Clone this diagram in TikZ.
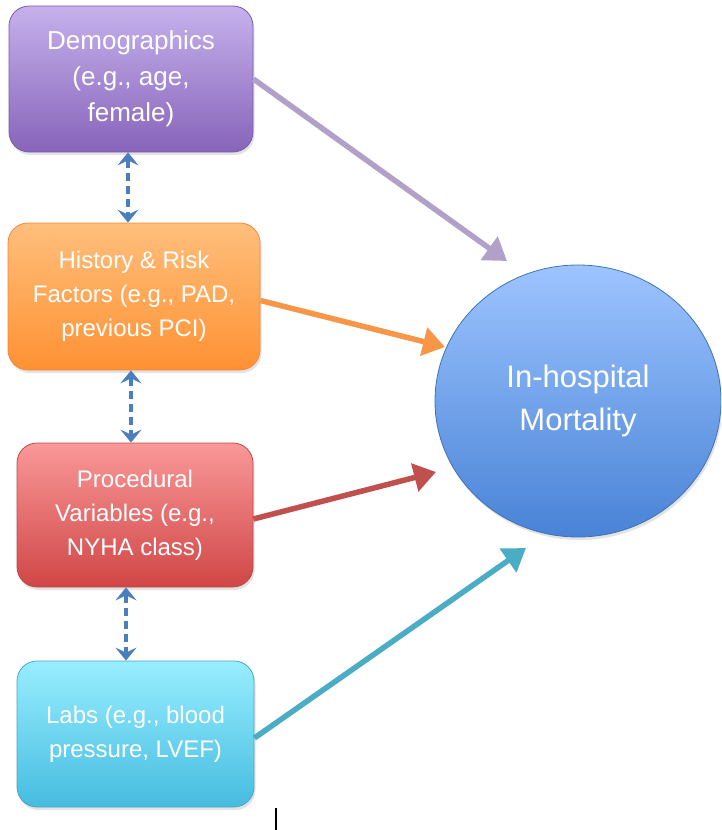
\documentclass[tikz,border=0pt]{standalone}
\usepackage{fontspec}
\setmainfont{Liberation Sans}
\usetikzlibrary{arrows.meta,shapes.geometric,shadows}
\definecolor{demoT}{HTML}{C6B1EC}
\definecolor{demoB}{HTML}{8764BA}
\definecolor{demoD}{HTML}{7A5CA8}
\definecolor{histT}{HTML}{FFBF7C}
\definecolor{histB}{HTML}{FF9133}
\definecolor{histD}{HTML}{F08A3A}
\definecolor{procT}{HTML}{FA9898}
\definecolor{procB}{HTML}{D04646}
\definecolor{procD}{HTML}{BE4B48}
\definecolor{labT}{HTML}{98EEFF}
\definecolor{labB}{HTML}{46BCE0}
\definecolor{labD}{HTML}{45A8C8}
\definecolor{mortT}{HTML}{9DC4FF}
\definecolor{mortB}{HTML}{4983D6}
\definecolor{mortD}{HTML}{3F72B8}
\definecolor{aPur}{HTML}{B1A1C8}
\definecolor{aOra}{HTML}{F79646}
\definecolor{aRed}{HTML}{C0504D}
\definecolor{aTea}{HTML}{4BACC6}
\definecolor{aBlu}{HTML}{4A7EBE}
\tikzset{
  box/.style={rectangle, rounded corners=20pt, align=center, text=white, line width=0.8pt,
    drop shadow={shadow xshift=1.5pt, shadow yshift=-3pt, opacity=0.22}},
  bigarrow/.style={line width=5.5pt, -{Triangle[length=22pt,width=28pt]}},
  dblarrow/.style={aBlu, line width=4pt, dash pattern=on 8pt off 5pt,
    {Stealth[length=13pt,width=21pt,inset=5pt]}-{Stealth[length=13pt,width=21pt,inset=5pt]}},
}
\begin{document}
\begin{tikzpicture}[x=1pt,y=-1pt]
\useasboundingbox (0,0) rectangle (721,830);
\clip (0,0) rectangle (721,830);
\node[box, draw=demoD, top color=demoT, bottom color=demoB, minimum width=244pt, minimum height=146pt,
  font=\fontsize{26}{36}\selectfont] (demo) at (131,79) {Demographics\\(e.g., age,\\female)};
\node[box, draw=histD, top color=histT, bottom color=histB, minimum width=252pt, minimum height=147pt,
  font=\fontsize{24}{34}\selectfont] (hist) at (134,296.5) {History \& Risk\\Factors (e.g., PAD,\\previous PCI)};
\node[box, draw=procD, top color=procT, bottom color=procB, minimum width=236pt, minimum height=144pt,
  font=\fontsize{24}{34}\selectfont] (proc) at (135,515) {Procedural\\Variables (e.g.,\\NYHA class)};
\node[box, draw=labD, top color=labT, bottom color=labB, minimum width=237pt, minimum height=146pt,
  font=\fontsize{24}{34}\selectfont] (labs) at (135.5,734) {Labs (e.g., blood\\pressure, LVEF)};
\node[ellipse, draw=mortD, line width=0.8pt, top color=mortT, bottom color=mortB, minimum width=286pt,
  minimum height=272pt, inner sep=0pt, align=center, text=white, font=\fontsize{31}{43}\selectfont,
  drop shadow={shadow xshift=1.5pt, shadow yshift=-3pt, opacity=0.22}] (mort) at (578,401) {In-hospital\\Mortality};
% arrow tips
\coordinate (tPur) at (507,261);
\coordinate (tOra) at (445,347);
\coordinate (tRed) at (436,472);
\coordinate (tTea) at (526,548);
\draw[bigarrow, aPur] (demo.east) -- (tPur);
\draw[bigarrow, aOra] ([yshift=-4pt]hist.east) -- (tOra);
\draw[bigarrow, aRed] ([yshift=-4pt]proc.east) -- (tRed);
\draw[bigarrow, aTea] ([yshift=-4pt]labs.east) -- (tTea);
% dashed double arrows
\coordinate (c1) at (128,0);
\coordinate (c2) at (131,0);
\coordinate (c3) at (126,0);
\draw[dblarrow] (demo.south -| c1) -- (hist.north -| c1);
\draw[dblarrow] (hist.south -| c2) -- (proc.north -| c2);
\draw[dblarrow] (proc.south -| c3) -- (labs.north -| c3);
% stray cursor mark
\draw[black, line width=1.2pt] (276,808) -- (276,830);
\end{tikzpicture}
\end{document}
